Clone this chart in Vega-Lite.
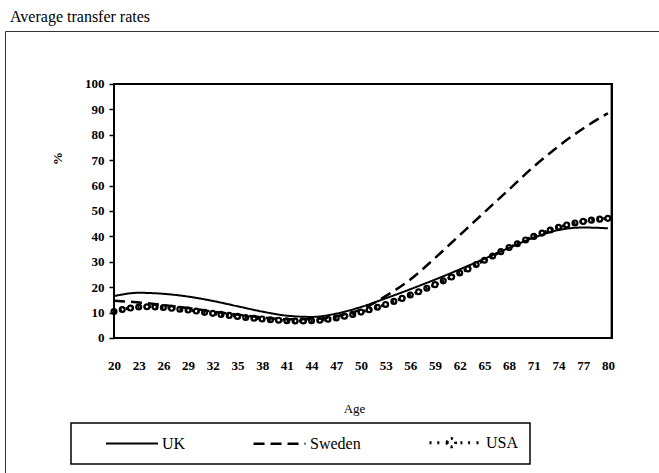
{
  "$schema": "https://vega.github.io/schema/vega-lite/v6.json",
  "width": 685,
  "height": 469,
  "autosize": "none",
  "padding": {"left": 5, "top": 31, "right": -31, "bottom": -27},
  "background": "white",
  "title": {
    "text": "Average transfer rates",
    "anchor": "start",
    "frame": "group",
    "dx": 5,
    "offset": 6,
    "font": "Liberation Serif",
    "fontSize": 16,
    "fontWeight": "normal",
    "color": "black"
  },
  "config": {
    "view": {"stroke": "#333333", "strokeWidth": 1},
    "font": "Liberation Serif"
  },
  "data": {
    "values": [
      {"country": "UK", "age": 20, "value": 16.5},
      {"country": "UK", "age": 23, "value": 17.8},
      {"country": "UK", "age": 26, "value": 17.4},
      {"country": "UK", "age": 29, "value": 16.3},
      {"country": "UK", "age": 32, "value": 14.6},
      {"country": "UK", "age": 35, "value": 12.5},
      {"country": "UK", "age": 38, "value": 10.4},
      {"country": "UK", "age": 41, "value": 8.8},
      {"country": "UK", "age": 44, "value": 8.3},
      {"country": "UK", "age": 47, "value": 9.6},
      {"country": "UK", "age": 50, "value": 12.2},
      {"country": "UK", "age": 53, "value": 15.6},
      {"country": "UK", "age": 56, "value": 19.2},
      {"country": "UK", "age": 59, "value": 23.0},
      {"country": "UK", "age": 62, "value": 27.0},
      {"country": "UK", "age": 65, "value": 31.2},
      {"country": "UK", "age": 68, "value": 35.5},
      {"country": "UK", "age": 71, "value": 39.5},
      {"country": "UK", "age": 74, "value": 42.5},
      {"country": "UK", "age": 77, "value": 43.5},
      {"country": "UK", "age": 80, "value": 43.2},
      {"country": "Sweden", "age": 20, "value": 14.7},
      {"country": "Sweden", "age": 23, "value": 14.0},
      {"country": "Sweden", "age": 26, "value": 13.0},
      {"country": "Sweden", "age": 29, "value": 11.8},
      {"country": "Sweden", "age": 32, "value": 10.4},
      {"country": "Sweden", "age": 35, "value": 9.2},
      {"country": "Sweden", "age": 38, "value": 8.1},
      {"country": "Sweden", "age": 41, "value": 7.4},
      {"country": "Sweden", "age": 44, "value": 7.4},
      {"country": "Sweden", "age": 47, "value": 8.6},
      {"country": "Sweden", "age": 50, "value": 11.2},
      {"country": "Sweden", "age": 53, "value": 16.5},
      {"country": "Sweden", "age": 56, "value": 23.0},
      {"country": "Sweden", "age": 59, "value": 31.5},
      {"country": "Sweden", "age": 62, "value": 40.5},
      {"country": "Sweden", "age": 65, "value": 49.5},
      {"country": "Sweden", "age": 68, "value": 58.5},
      {"country": "Sweden", "age": 71, "value": 67.5},
      {"country": "Sweden", "age": 74, "value": 75.5},
      {"country": "Sweden", "age": 77, "value": 82.5},
      {"country": "Sweden", "age": 80, "value": 88.5},
      {"country": "USA", "age": 20, "value": 10.4},
      {"country": "USA", "age": 21, "value": 11.2},
      {"country": "USA", "age": 22, "value": 11.8},
      {"country": "USA", "age": 23, "value": 12.2},
      {"country": "USA", "age": 24, "value": 12.3},
      {"country": "USA", "age": 25, "value": 12.2},
      {"country": "USA", "age": 26, "value": 12.0},
      {"country": "USA", "age": 27, "value": 11.7},
      {"country": "USA", "age": 28, "value": 11.3},
      {"country": "USA", "age": 29, "value": 11.0},
      {"country": "USA", "age": 30, "value": 10.6},
      {"country": "USA", "age": 31, "value": 10.1},
      {"country": "USA", "age": 32, "value": 9.7},
      {"country": "USA", "age": 33, "value": 9.3},
      {"country": "USA", "age": 34, "value": 8.9},
      {"country": "USA", "age": 35, "value": 8.5},
      {"country": "USA", "age": 36, "value": 8.1},
      {"country": "USA", "age": 37, "value": 7.8},
      {"country": "USA", "age": 38, "value": 7.5},
      {"country": "USA", "age": 39, "value": 7.2},
      {"country": "USA", "age": 40, "value": 7.0},
      {"country": "USA", "age": 41, "value": 6.8},
      {"country": "USA", "age": 42, "value": 6.7},
      {"country": "USA", "age": 43, "value": 6.7},
      {"country": "USA", "age": 44, "value": 6.8},
      {"country": "USA", "age": 45, "value": 7.0},
      {"country": "USA", "age": 46, "value": 7.4},
      {"country": "USA", "age": 47, "value": 7.9},
      {"country": "USA", "age": 48, "value": 8.6},
      {"country": "USA", "age": 49, "value": 9.3},
      {"country": "USA", "age": 50, "value": 10.2},
      {"country": "USA", "age": 51, "value": 11.1},
      {"country": "USA", "age": 52, "value": 12.1},
      {"country": "USA", "age": 53, "value": 13.2},
      {"country": "USA", "age": 54, "value": 14.4},
      {"country": "USA", "age": 55, "value": 15.6},
      {"country": "USA", "age": 56, "value": 16.9},
      {"country": "USA", "age": 57, "value": 18.2},
      {"country": "USA", "age": 58, "value": 19.6},
      {"country": "USA", "age": 59, "value": 21.0},
      {"country": "USA", "age": 60, "value": 22.5},
      {"country": "USA", "age": 61, "value": 24.0},
      {"country": "USA", "age": 62, "value": 25.6},
      {"country": "USA", "age": 63, "value": 27.2},
      {"country": "USA", "age": 64, "value": 28.9},
      {"country": "USA", "age": 65, "value": 30.6},
      {"country": "USA", "age": 66, "value": 32.3},
      {"country": "USA", "age": 67, "value": 34.0},
      {"country": "USA", "age": 68, "value": 35.6},
      {"country": "USA", "age": 69, "value": 37.1},
      {"country": "USA", "age": 70, "value": 38.6},
      {"country": "USA", "age": 71, "value": 40.0},
      {"country": "USA", "age": 72, "value": 41.3},
      {"country": "USA", "age": 73, "value": 42.5},
      {"country": "USA", "age": 74, "value": 43.6},
      {"country": "USA", "age": 75, "value": 44.5},
      {"country": "USA", "age": 76, "value": 45.3},
      {"country": "USA", "age": 77, "value": 45.9},
      {"country": "USA", "age": 78, "value": 46.4},
      {"country": "USA", "age": 79, "value": 46.8},
      {"country": "USA", "age": 80, "value": 47.1}
    ]
  },
  "encoding": {
    "x": {
      "field": "age",
      "type": "quantitative",
      "scale": {"domain": [6.758, 89.976], "nice": false, "zero": false},
      "axis": {
        "title": "Age",
        "offset": -162,
        "domain": false,
        "values": [20, 23, 26, 29, 32, 35, 38, 41, 44, 47, 50, 53, 56, 59, 62, 65, 68, 71, 74, 77, 80],
        "grid": false,
        "ticks": false,
        "labelPadding": 21,
        "labelFont": "Liberation Serif",
        "labelFontSize": 13,
        "labelFontWeight": "bold",
        "labelColor": "black",
        "labelFlush": false,
        "labelOverlap": false,
        "titleFont": "Liberation Serif",
        "titleFontSize": 13,
        "titleFontWeight": "normal",
        "titleColor": "black",
        "titleBaseline": "middle",
        "titleY": 70,
        "titleX": 349
      }
    },
    "y": {
      "field": "value",
      "type": "quantitative",
      "scale": {"domain": [-63.78, 120.866], "nice": false, "zero": false},
      "axis": {
        "title": "%",
        "offset": -109,
        "domain": false,
        "values": [0, 10, 20, 30, 40, 50, 60, 70, 80, 90, 100],
        "grid": false,
        "tickSize": 5,
        "tickColor": "black",
        "tickWidth": 1.5,
        "labelPadding": 5,
        "labelFont": "Liberation Serif",
        "labelFontSize": 13,
        "labelFontWeight": "bold",
        "labelColor": "black",
        "labelFlush": false,
        "titleFont": "Liberation Serif",
        "titleFontSize": 13,
        "titleFontWeight": "bold",
        "titleColor": "black",
        "titleX": -57,
        "titleY": 127,
        "titleAlign": "center",
        "titleBaseline": "middle"
      }
    }
  },
  "layer": [
    {
      "mark": {"type": "rect", "fill": null, "fillOpacity": 0, "stroke": "black", "strokeWidth": 2},
      "encoding": {
        "x": {"datum": 20, "type": "quantitative"},
        "x2": {"datum": 80.5},
        "y": {"datum": 0, "type": "quantitative"},
        "y2": {"datum": 100}
      }
    },
    {
      "mark": {"type": "line", "interpolate": "monotone", "color": "black"},
      "encoding": {
        "detail": {"field": "country", "type": "nominal"},
        "strokeDash": {
          "field": "country",
          "type": "nominal",
          "scale": {"domain": ["UK", "Sweden", "USA"], "range": [[1, 0], [11, 6], [2, 4]]},
          "legend": {
            "title": " ",
            "titleOrient": "left",
            "titlePadding": 24,
            "orient": "none",
            "legendX": 66,
            "legendY": 392,
            "direction": "horizontal",
            "strokeColor": "black",
            "padding": 11,
            "symbolType": "stroke",
            "symbolSize": 196,
            "symbolStrokeWidth": 2,
            "symbolStrokeColor": "black",
            "symbolOffset": 18,
            "labelFont": "Liberation Serif",
            "labelFontSize": 16,
            "labelColor": "black",
            "labelOffset": 22,
            "columnPadding": 62,
            "encode": {
              "legend": {"update": {"strokeWidth": {"value": 1.5}}},
              "symbols": {
                "update": {
                  "shape": {"signal": "datum.value === 'USA' ? 'M-3.71,0L-3.3,0M-2.6,0L-2.19,0M-1.2,0A0.6,0.6 0 1,1 0,0A0.6,0.6 0 1,1 -1.2,0M0.7,0L1.11,0M1.8,0L2.21,0M3.0,0L3.41,0' : 'M-3.71,0L3.71,0'"},
                  "strokeDash": {"signal": "datum.value === 'Sweden' ? [6, 10] : [1, 0]"},
                  "stroke": {"value": "black"}
                }
              }
            }
          }
        },
        "strokeWidth": {
          "field": "country",
          "type": "nominal",
          "scale": {"domain": ["UK", "Sweden", "USA"], "range": [2, 3, 1.5]},
          "legend": null
        }
      }
    },
    {
      "transform": [{"filter": "datum.country === 'USA'"}],
      "mark": {"type": "point", "shape": "circle", "filled": false, "color": "black", "strokeWidth": 2.2, "size": 24, "opacity": 1}
    }
  ]
}
